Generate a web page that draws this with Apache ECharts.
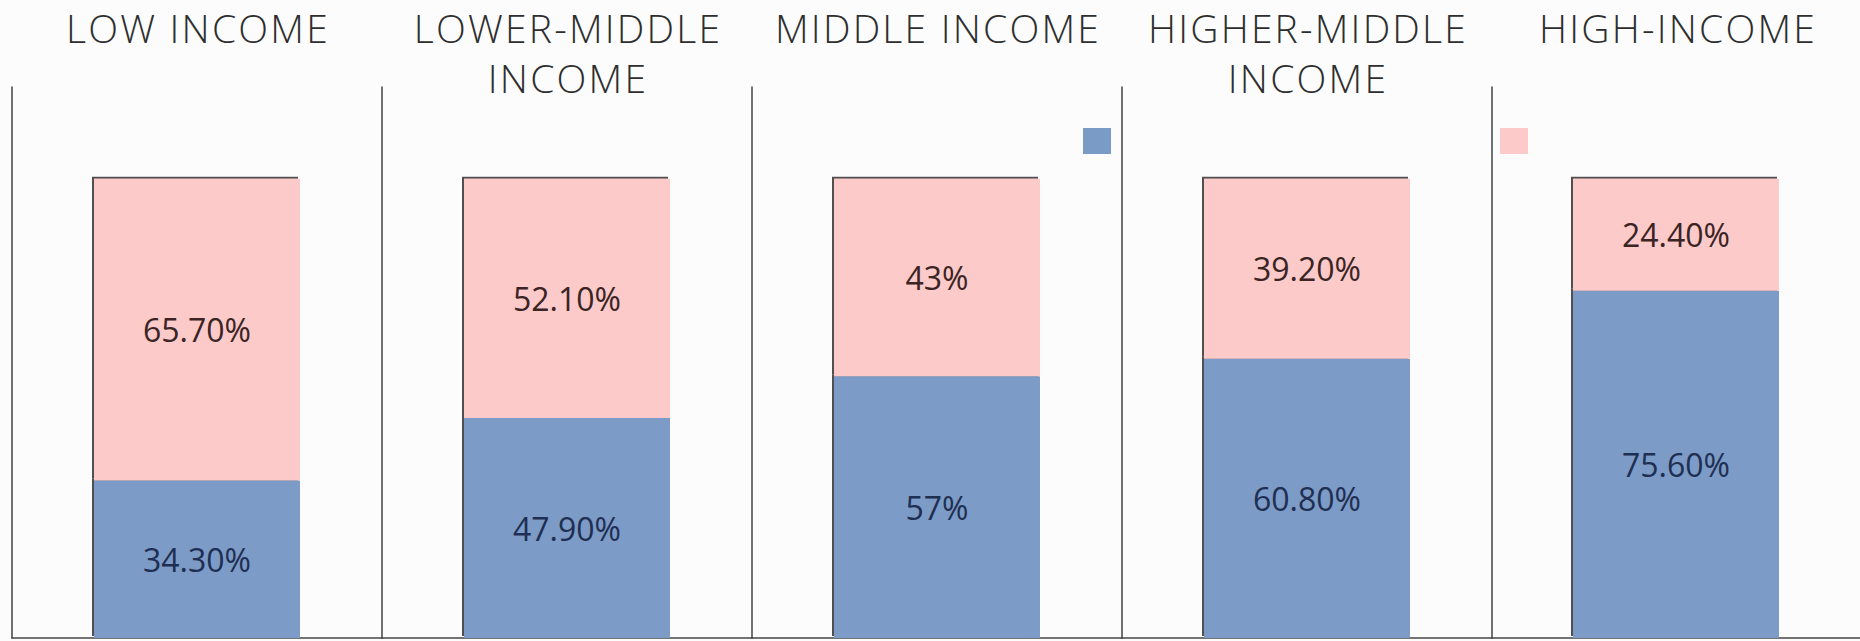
<!DOCTYPE html>
<html>
<head>
<meta charset="utf-8">
<title>Share by income group</title>
<script src="https://cdn.jsdelivr.net/npm/echarts@6/dist/echarts.min.js"></script>
<style>
  html, body { margin: 0; padding: 0; background: #fcfcfc; }
  #chart { width: 1860px; height: 641px; }
  /* panel headings are set a little wider */
  #chart text[style*="39px"] { letter-spacing: 2.2px; }
</style>
</head>
<body>
<div id="chart"></div>
<script>
// Income groups, one panel each
const categories = [
  'LOW INCOME',
  'LOWER-MIDDLE\nINCOME',
  'MIDDLE INCOME',
  'HIGHER-MIDDLE\nINCOME',
  'HIGH-INCOME'
];
// Lower (blue) and upper (pink) shares, in percent
const seriesNames = ['Series1', 'Series2'];
const blueShare = [34.3, 47.9, 57, 60.8, 75.6];
const pinkShare = [65.7, 52.1, 43, 39.2, 24.4];
// Value axis range
const axisMax = 120;

const BLUE = '#7b9bc7';
const PINK = '#fdcaca';
const AXIS = '#454545';

const panelLeft = 12;
const panelWidth = 370;
const gridTop = 87;
const gridBottom = 3;

function fmt(v) {
  return Number.isInteger(v) ? v + '%' : v.toFixed(2) + '%';
}

const grids = [], xAxes = [], yAxes = [], series = [], titles = [];

categories.forEach((cat, i) => {
  const left = panelLeft + i * panelWidth;
  grids.push({ left: left, width: panelWidth, top: gridTop, bottom: gridBottom });
  xAxes.push({
    type: 'category', gridIndex: i, data: [cat],
    axisLine: { show: true, lineStyle: { color: AXIS, width: 1.5 } },
    axisTick: { show: false }, axisLabel: { show: false }
  });
  yAxes.push({
    type: 'value', gridIndex: i, min: 0, max: axisMax,
    axisLine: { show: true, lineStyle: { color: AXIS, width: 1.5 } },
    axisTick: { show: false }, axisLabel: { show: false },
    splitLine: { show: false }
  });
  titles.push({
    text: cat,
    left: left + panelWidth / 2 - 4,
    top: -3,
    textAlign: 'center',
    textStyle: {
      fontFamily: 'Open Sans', fontSize: 39, fontWeight: 350,
      color: '#2e2e2e', lineHeight: 50
    }
  });
  const barStyle = (color) => ({
    color: color,
    shadowColor: 'rgba(50,50,50,0.85)',
    shadowBlur: 0,
    shadowOffsetX: -2,
    shadowOffsetY: -2
  });
  series.push({
    name: seriesNames[0], type: 'bar', stack: 'p' + i,
    xAxisIndex: i, yAxisIndex: i, barWidth: 206,
    data: [blueShare[i]],
    itemStyle: barStyle(BLUE),
    label: {
      show: true, position: 'inside', formatter: p => fmt(p.value),
      fontFamily: 'Open Sans', fontSize: 32, color: '#1f2f52'
    }
  });
  series.push({
    name: seriesNames[1], type: 'bar', stack: 'p' + i,
    xAxisIndex: i, yAxisIndex: i, barWidth: 206,
    data: [pinkShare[i]],
    itemStyle: barStyle(PINK),
    label: {
      show: true, position: 'inside', formatter: p => fmt(p.value),
      fontFamily: 'Open Sans', fontSize: 32, color: '#3a2424'
    }
  });
});

const chart = echarts.init(document.getElementById('chart'), null, { renderer: 'svg' });
chart.setOption({
  backgroundColor: '#fcfcfc',
  animation: false,
  title: titles,
  legend: [
    {
      data: [seriesNames[0]], left: 1083, top: 128, icon: 'rect',
      itemWidth: 28, itemHeight: 26, formatter: () => '', selectedMode: false,
      padding: 0
    },
    {
      data: [seriesNames[1]], left: 1500, top: 128, icon: 'rect',
      itemWidth: 28, itemHeight: 26, formatter: () => '', selectedMode: false,
      padding: 0
    }
  ],
  grid: grids,
  xAxis: xAxes,
  yAxis: yAxes,
  series: series
});
</script>
</body>
</html>
